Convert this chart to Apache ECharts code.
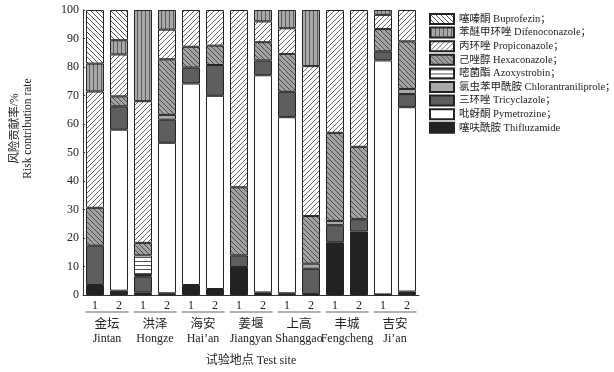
<!DOCTYPE html>
<html>
<head>
<meta charset="utf-8">
<script src="https://cdn.jsdelivr.net/npm/echarts@6/dist/echarts.min.js"></script>
<style>
  html, body {margin: 0; padding: 0; background: #fff;}
  #chart {width: 614px; height: 372px;}
</style>
</head>
<body>
<div id="chart"></div>
<script>
// two samples per site
const bars = ['1', '2', '1', '2', '1', '2', '1', '2', '1', '2', '1', '2', '1', '2']
const sites = ['金坛', '洪泽', '海安', '姜堰', '上高', '丰城', '吉安']
const sitesEn = ['Jintan', 'Hongze', 'Hai\u2019an', 'Jiangyan', 'Shanggao', 'Fengcheng', 'Ji\u2019an']
const yTicks = [0, 10, 20, 30, 40, 50, 60, 70, 80, 90, 100]

// risk contribution %, bottom of stack first
const thifluzamide = [3.5, 1.5, 0.9, 0.6, 3.5, 2.1, 9.8, 0.9, 0.6, 0.3, 18.5, 22.3, 0.2, 1.2]
const pymetrozine = [0, 56.5, 0, 52.8, 70.7, 67.8, 0, 76.2, 61.8, 0, 0, 0, 82.1, 64.7]
const tricyclazole = [13.8, 8.2, 5.5, 8.1, 5.6, 10.8, 4.1, 5.2, 8.9, 8.9, 6.0, 4.3, 3.2, 4.6]
const chlorantraniliprole = [0, 0, 0.6, 1.7, 0, 0, 0, 0, 0, 1.8, 1.5, 0, 0, 1.8]
const azoxystrobin = [0, 0, 6.9, 0, 0, 0, 0, 0, 0, 0, 0, 0, 0, 0]
const hexaconazole = [13.3, 3.5, 4.4, 19.5, 7.3, 6.8, 23.9, 6.4, 13.3, 16.7, 30.9, 25.4, 7.8, 16.7]
const propiconazole = [40.8, 14.7, 49.7, 10.4, 12.9, 12.5, 62.2, 7.3, 9.0, 52.6, 43.1, 48.0, 5.0, 11.0]
const difenoconazole = [9.8, 5.0, 32.0, 6.9, 0, 0, 0, 4.0, 6.4, 19.7, 0, 0, 1.7, 0]
const buprofezin = [18.8, 10.6, 0, 0, 0, 0, 0, 0, 0, 0, 0, 0, 0, 0]

const FONT = '"Liberation Serif", "Noto Sans CJK SC", serif'

// little canvas tiles for the hatch fills
function hatch(bg, fg, kind) {
  const s = kind === 'v' || kind === 'h' ? 4 : 5
  const c = document.createElement('canvas')
  c.width = s
  c.height = s
  const ctx = c.getContext('2d')
  ctx.fillStyle = bg
  ctx.fillRect(0, 0, s, s)
  ctx.strokeStyle = fg
  ctx.lineWidth = 1
  ctx.beginPath()
  if (kind === 'v') {
    ctx.moveTo(1.5, 0); ctx.lineTo(1.5, s)
  } else if (kind === 'h') {
    ctx.moveTo(0, 1.5); ctx.lineTo(s, 1.5)
  } else if (kind === 'back') {
    ctx.moveTo(-1, -1); ctx.lineTo(s + 1, s + 1)
    ctx.moveTo(-1, s - 1); ctx.lineTo(1, s + 1)
    ctx.moveTo(s - 1, -1); ctx.lineTo(s + 1, 1)
  } else {
    ctx.moveTo(-1, s + 1); ctx.lineTo(s + 1, -1)
    ctx.moveTo(-1, 1); ctx.lineTo(1, -1)
    ctx.moveTo(s - 1, s + 1); ctx.lineTo(s + 1, s - 1)
  }
  ctx.stroke()
  return {image: c, repeat: 'repeat'}
}

const layers = [
  {name: '噻呋酰胺 Thifluzamide', data: thifluzamide, color: '#232323'},
  {name: '吡蚜酮 Pymetrozine', data: pymetrozine, color: '#ffffff'},
  {name: '三环唑 Tricyclazole', data: tricyclazole, color: '#5e5e5e'},
  {name: '氯虫苯甲酰胺 Chlorantraniliprole', data: chlorantraniliprole, color: '#a9a9a9'},
  {name: '嘧菌酯 Azoxystrobin', data: azoxystrobin, color: hatch('#ffffff', '#555', 'h')},
  {name: '己唑醇 Hexaconazole', data: hexaconazole, color: hatch('#a2a2a2', '#4a4a4a', 'back')},
  {name: '丙环唑 Propiconazole', data: propiconazole, color: hatch('#ffffff', '#6a6a6a', 'fwd')},
  {name: '苯醚甲环唑 Difenoconazole', data: difenoconazole, color: hatch('#a8a8a8', '#5a5a5a', 'v')},
  {name: '噻嗪酮 Buprofezin', data: buprofezin, color: hatch('#ffffff', '#555', 'back')},
]

const chart = echarts.init(document.getElementById('chart'))

chart.setOption({
  animation: false,
  textStyle: {fontFamily: FONT},
  grid: {left: 63, top: 10, width: 356, height: 288},
  legend: {
    orient: 'vertical',
    left: 424,
    top: 8,
    itemWidth: 24,
    itemHeight: 10,
    itemGap: 1.6,
    icon: 'rect',
    data: layers.map(l => l.name).reverse(),
    formatter: name => name === '噻呋酰胺 Thifluzamide' ? name : name + '；',
    textStyle: {fontFamily: FONT, fontSize: 10.5, color: '#222', lineHeight: 10, padding: [0, 0, 0, 0]},
  },
  xAxis: [{
    type: 'category',
    data: bars,
    axisLine: {lineStyle: {color: '#333', width: 1}},
    axisTick: {inside: true, alignWithLabel: true, length: 2, lineStyle: {color: '#333'}},
    axisLabel: {margin: 5, fontSize: 12, color: '#222', fontFamily: FONT},
    name: '试验地点 Test site',
    nameLocation: 'middle',
    nameGap: 60,
    nameTextStyle: {fontSize: 12, color: '#222', fontFamily: FONT},
  }, {
    type: 'category',
    data: sites,
    position: 'bottom',
    axisLine: {show: false},
    axisTick: {show: false},
    axisLabel: {
      interval: 0,
      margin: 13,
      color: '#222',
      fontFamily: FONT,
      formatter: (v, i) => '{ul|}\n{cn|' + v + '}\n{en|' + sitesEn[i] + '}',
      rich: {
        ul: {width: 43, height: 1, lineHeight: 8, backgroundColor: '#666'},
        cn: {fontSize: 12.5, lineHeight: 18, fontFamily: FONT, color: '#222'},
        en: {fontSize: 12, lineHeight: 10, fontFamily: FONT, color: '#222'},
      },
    },
  }],
  yAxis: {
    type: 'value',
    min: yTicks[0],
    max: yTicks[yTicks.length - 1],
    interval: 10,
    axisLine: {show: true, lineStyle: {color: '#333', width: 1}},
    axisTick: {show: true, inside: true, length: 2, lineStyle: {color: '#333'}},
    splitLine: {show: false},
    axisLabel: {margin: 4, fontSize: 12, color: '#222', fontFamily: FONT},
    name: '风险贡献率/%\nRisk contribution rate',
    nameLocation: 'middle',
    nameRotate: 90,
    nameGap: 49,
    nameTextStyle: {fontSize: 11.5, lineHeight: 13, color: '#222', fontFamily: FONT, padding: [0, 0, 0, 48]},
  },
  series: layers.map(l => ({
    type: 'bar',
    name: l.name,
    stack: 'all',
    xAxisIndex: 0,
    barWidth: 18,
    data: l.data.map(v => v || '-'),
    itemStyle: {color: l.color, borderColor: '#222', borderWidth: 1},
  })),
})
</script>
</body>
</html>
